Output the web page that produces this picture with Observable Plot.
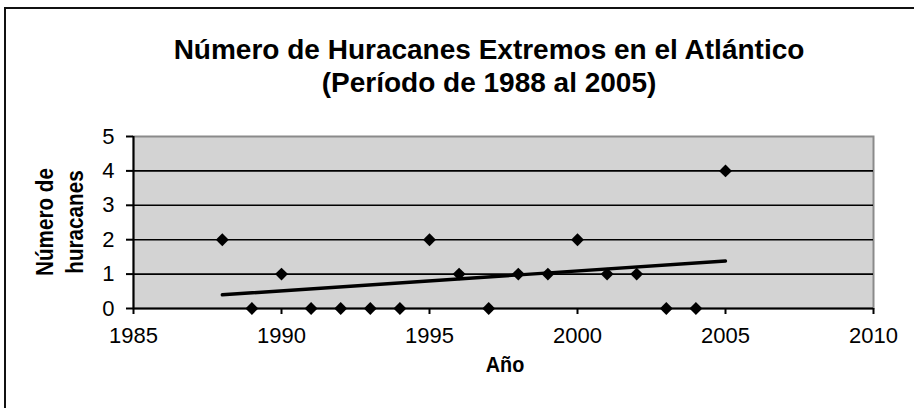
<!DOCTYPE html>
<html><head><meta charset="utf-8">
<script src="https://cdn.jsdelivr.net/npm/d3@7"></script>
<script src="https://cdn.jsdelivr.net/npm/@observablehq/plot@0.6"></script>
<style>
body{margin:0;background:#fff;}
#wrap{position:relative;width:914px;height:408px;overflow:hidden;font-family:"Liberation Sans",Arial,sans-serif;color:#000;}
#border{position:absolute;left:4px;top:7px;width:940px;height:440px;border:2px solid #111;box-sizing:border-box;}
.t{position:absolute;white-space:nowrap;transform:translateX(-50%);font-weight:bold;font-size:28px;line-height:28px;}
#ylab{position:absolute;left:60px;top:222px;transform:translate(-50%,-50%) rotate(-90deg) scale(0.86,1);white-space:nowrap;text-align:center;font-weight:bold;font-size:24px;line-height:30px;}
#xlab{position:absolute;left:505px;top:354px;transform:translateX(-50%) scale(0.9,1);font-weight:bold;font-size:22px;line-height:22px;}
#chart{position:absolute;left:0;top:0;}
</style></head>
<body>
<div id="wrap">
  <div id="chart"></div>
  <div id="border"></div>
  <div class="t" id="t1" style="left:489px;top:36px;"></div>
  <div class="t" id="t2" style="left:489px;top:69px;"></div>
  <div id="ylab"></div>
  <div id="xlab"></div>
</div>
<script>
const years = [1988,1989,1990,1991,1992,1993,1994,1995,1996,1997,1998,1999,2000,2001,2002,2003,2004,2005];
const counts = [2,0,1,0,0,0,0,2,1,0,1,1,2,1,1,0,0,4];
const xTicks = [1985,1990,1995,2000,2005,2010];
const yTicks = [0,1,2,3,4,5];
const gridValues = [1,2,3,4];
const titleLines = ["Número de Huracanes Extremos en el Atlántico","(Período de 1988 al 2005)"];
const yTitleLines = ["Número de","huracanes"];
const xTitle = "Año";

const data = years.map((y,i)=>({year:y,count:counts[i]}));

document.getElementById("t1").textContent = titleLines[0];
document.getElementById("t2").textContent = titleLines[1];
document.getElementById("ylab").innerHTML = yTitleLines.join("<br>");
document.getElementById("xlab").textContent = xTitle;

const plot = Plot.plot({
  width: 914,
  height: 408,
  marginLeft: 133,
  marginRight: 41,
  marginTop: 136,
  marginBottom: 100,
  style: {fontFamily: '"Liberation Sans", Arial, sans-serif', fontSize: "22px", background: "transparent", color: "#000"},
  x: {domain: [1985, 2010], label: null},
  y: {domain: [0, 5], label: null},
  marks: [
    Plot.frame({fill: "#d3d3d3", stroke: "#8a8a8a", strokeWidth: 2}),
    Plot.ruleY(gridValues, {stroke: "#000", strokeWidth: 1.6}),
    Plot.ruleY([0], {stroke: "#000", strokeWidth: 2}),
    Plot.ruleX([1985], {stroke: "#000", strokeWidth: 2}),
    Plot.axisX({ticks: xTicks, tickFormat: d => String(d), tickSize: 6, tickPadding: 13, strokeWidth: 2, label: null}),
    Plot.axisY({ticks: yTicks, tickFormat: d => String(d), tickSize: 7, tickPadding: 12, strokeWidth: 2, label: null}),
    Plot.linearRegressionY(data, {x: "year", y: "count", ci: 0, stroke: "#000", strokeWidth: 3.4}),
    Plot.dot(data, {x: "year", y: "count", symbol: "diamond2", r: 5.8, fill: "#000", stroke: "none"})
  ]
});
document.getElementById("chart").appendChild(plot);
</script>
</body></html>
